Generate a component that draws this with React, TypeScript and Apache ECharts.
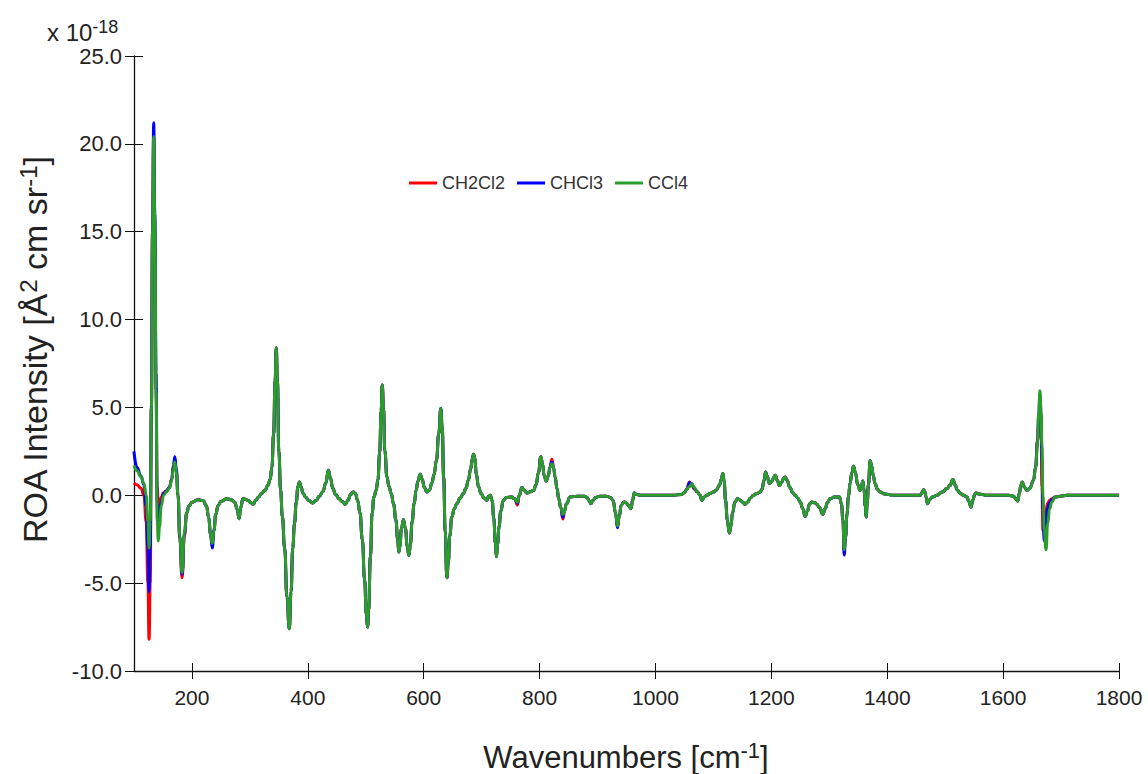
import React, { useEffect, useRef } from 'react';
import * as echarts from 'echarts';

// Wavenumbers [cm^-1] sampled along the spectrum
const wavenumbers = [
  100, 105, 112, 117, 121, 124, 126, 128, 130, 132,
  134, 136, 138, 140, 142, 144, 147, 151, 156, 161,
  165, 168, 170.5, 173, 176, 179, 183, 187, 191, 195,
  200, 210, 219, 225, 229, 232, 235, 238, 241, 245,
  250, 260, 268, 274, 278, 281.5, 284, 288, 292, 297,
  301, 305.5, 310, 315, 320, 326, 331, 335, 338, 341,
  343.5, 345.5, 347.5, 350, 353, 356, 360, 364, 368, 371,
  374, 377, 380, 383, 385.5, 388, 392, 396, 402, 408.5,
  414, 420, 426, 431, 435.5, 439, 443, 448, 454, 459,
  464.5, 469, 474, 478.5, 482, 486, 490, 494, 498, 501,
  503, 505, 508, 511, 514, 518, 521, 524, 526.5, 528.5,
  530.5, 533, 536.5, 540, 544, 548, 552, 555, 557, 559,
  561.5, 565, 568.5, 571.5, 574.5, 577, 580, 583.5, 587, 590,
  594, 597.5, 601, 605.5, 610, 614, 618, 622, 626, 629.5,
  632, 634.5, 637, 640, 642.5, 645, 648.5, 653, 657, 663,
  668.5, 673, 677, 681, 684, 686, 688, 691, 694.5, 699,
  704, 709, 712, 715, 718, 721, 723.5, 725.5, 727.5, 730,
  733, 737.5, 743, 752, 757, 761.8, 765, 769.4, 773, 778,
  784, 789.4, 794, 798, 802.2, 805, 808, 811.4, 815, 818,
  821.2, 824, 827, 830, 833, 836.5, 840.2, 843, 846, 852.8,
  865, 877, 882, 885, 888.5, 892, 897, 904.6, 915, 922,
  927, 931, 934.4, 937.5, 941, 946, 950, 954, 957.6, 960.5,
  963.3, 967, 975, 1000, 1030, 1045, 1050, 1054, 1058.8, 1062.8,
  1067, 1072, 1077, 1080, 1084, 1088.7, 1094, 1100, 1105, 1110.5,
  1113.5, 1116.3, 1118.5, 1121, 1124, 1127.3, 1130, 1133, 1137, 1141.6,
  1145, 1150, 1154.9, 1159, 1164, 1169, 1175, 1180.7, 1184, 1187,
  1189.9, 1192.5, 1196.8, 1201, 1204, 1206.6, 1210, 1214, 1218, 1221,
  1223.9, 1227, 1232, 1237, 1241, 1245.5, 1249.8, 1254, 1258.4, 1262,
  1266, 1270, 1275, 1278.6, 1283, 1288.9, 1293, 1297, 1301.6, 1309,
  1317.6, 1321, 1323.5, 1325.7, 1328, 1330.5, 1333, 1336, 1339, 1341.8,
  1345, 1349, 1353.3, 1355.5, 1357.9, 1360, 1362, 1363.6, 1365.5, 1367.5,
  1370.5, 1373, 1376, 1379, 1383, 1387.8, 1395, 1410.8, 1457, 1460,
  1462.7, 1465, 1467, 1469.6, 1473, 1478, 1485.8, 1495, 1503, 1508,
  1513.4, 1517, 1521, 1526, 1532, 1537.6, 1541, 1544.5, 1548, 1551,
  1553.6, 1558, 1572, 1610, 1618, 1622, 1625, 1628, 1630.5, 1633,
  1636, 1641, 1646, 1652.5, 1656, 1659.4, 1661.5, 1663.5, 1665.5, 1667,
  1668.7, 1671, 1674, 1677, 1680, 1684, 1690, 1698.6, 1710, 1800,
];

// ROA intensity (x 10^-18 Å^2 cm sr^-1)
const ch2cl2 = [
  0.7, 0.6, 0.4, 0.0, -1.5, -5.0, -8.2, -5.0, 5, 15,
  20.5, 15, 6, 0.5, -0.5, -0.65, -0.1, 0.15, 0.25, 0.45,
  0.9, 1.6, 2.0, 1.4, 0, -2.5, -4.7, -2.3, -1.0, -0.6,
  -0.4, -0.25, -0.3, -0.6, -1.3, -2.2, -2.8, -2.0, -1.1, -0.6,
  -0.35, -0.2, -0.25, -0.4, -0.8, -1.33, -0.7, -0.2, -0.22, -0.3,
  -0.4, -0.51, -0.3, -0.1, 0.1, 0.28, 0.55, 0.9, 1.6, 3.5,
  6.5, 8.4, 6.5, 2.5, 0.3, -1.2, -3.0, -5.8, -7.6, -5.5,
  -3.0, -1.6, -0.4, 0.5, 0.76, 0.5, 0.1, -0.1, -0.3, -0.44,
  -0.3, -0.05, 0.2, 0.7, 1.43, 1.0, 0.4, 0.05, -0.2, -0.35,
  -0.51, -0.3, 0.05, 0.19, 0.1, -0.3, -1.0, -2.5, -4.8, -6.8,
  -7.5, -6.5, -3.5, -1.0, -0.1, 0.28, 0.9, 2.4, 4.8, 6.27,
  5.0, 2.5, 1.05, 0.5, 0.1, -0.5, -1.4, -2.5, -3.23, -2.9,
  -1.9, -1.39, -1.9, -2.9, -3.42, -2.8, -1.5, -0.48, 0.3, 0.8,
  1.2, 0.9, 0.45, 0.19, 0.3, 0.7, 1.2, 2.0, 3.5, 4.94,
  3.8, 1.0, -2.0, -4.7, -3.8, -2.3, -1.23, -0.75, -0.48, -0.15,
  0.1, 0.4, 0.86, 1.5, 2.1, 2.34, 2.1, 1.2, 0.48, 0.1,
  -0.15, -0.28, -0.05, 0.0, -0.3, -1.3, -2.7, -3.5, -2.8, -1.8,
  -0.9, -0.29, -0.12, -0.1, -0.2, -0.55, 0.0, 0.44, 0.3, 0.13,
  0.2, 0.28, 0.6, 1.3, 2.19, 1.8, 1.1, 0.82, 1.1, 1.6,
  2.05, 1.6, 1.0, 0.38, -0.2, -0.7, -1.35, -0.9, -0.5, -0.1,
  -0.05, -0.05, -0.12, -0.3, -0.48, -0.3, -0.12, -0.05, -0.05, -0.12,
  -0.3, -1.0, -1.77, -1.2, -0.55, -0.38, -0.45, -0.6, -0.76, -0.3,
  0.13, 0.05, 0, 0, 0, 0.05, 0.15, 0.35, 0.76, 0.55,
  0.35, 0.2, 0.0, -0.29, -0.1, 0.0, 0.1, 0.19, 0.3, 0.57,
  0.9, 1.24, 0.8, -0.3, -1.4, -2.15, -1.8, -1.0, -0.4, -0.19,
  -0.25, -0.38, -0.51, -0.38, -0.15, 0.0, 0.1, 0.19, 0.35, 0.8,
  1.33, 1.1, 0.67, 0.8, 1.0, 1.14, 0.85, 0.57, 0.75, 0.95,
  1.04, 0.85, 0.45, 0.15, 0.0, -0.15, -0.38, -0.75, -1.2, -0.9,
  -0.5, -0.38, -0.42, -0.51, -0.7, -1.08, -0.75, -0.4, -0.19, -0.1,
  -0.1, -0.5, -1.4, -3.2, -2.4, -1.1, -0.1, 0.7, 1.3, 1.65,
  1.3, 0.6, 0.28, 0.5, 0.82, 0.3, -0.6, -1.24, -0.4, 0.6,
  1.96, 1.7, 1.1, 0.67, 0.35, 0.19, 0.08, 0.0, 0.0, 0.15,
  0.32, 0.2, -0.1, -0.48, -0.25, -0.1, 0.0, 0.18, 0.38, 0.55,
  0.9, 0.6, 0.3, 0.1, 0.0, -0.1, -0.35, -0.67, -0.25, 0.05,
  0.13, 0.08, 0.0, 0.0, -0.05, -0.2, -0.32, 0.1, 0.55, 0.76,
  0.5, 0.28, 0.4, 0.86, 1.6, 3.1, 4.2, 5.0, 3.5, 0.5,
  -2.0, -1.5, -0.8, -0.45, -0.3, -0.2, -0.1, -0.05, 0, 0,
];

const chcl3 = [
  2.5, 1.6, 1.1, 0.6, -0.6, -3.0, -5.5, -3.0, 5, 15,
  21.2, 16, 7, -0.5, -1.8, -1.2, -0.4, 0.1, 0.25, 0.45,
  0.9, 1.7, 2.2, 1.5, 0, -2.4, -4.5, -2.2, -1.0, -0.6,
  -0.4, -0.25, -0.3, -0.6, -1.3, -2.2, -3.0, -2.0, -1.1, -0.6,
  -0.35, -0.2, -0.25, -0.4, -0.8, -1.33, -0.7, -0.2, -0.22, -0.3,
  -0.4, -0.51, -0.3, -0.1, 0.1, 0.28, 0.55, 0.9, 1.6, 3.5,
  6.5, 8.4, 6.5, 2.5, 0.3, -1.2, -3.0, -5.8, -7.6, -5.5,
  -3.0, -1.6, -0.4, 0.5, 0.76, 0.5, 0.1, -0.1, -0.3, -0.44,
  -0.3, -0.05, 0.2, 0.7, 1.43, 1.0, 0.4, 0.05, -0.2, -0.35,
  -0.51, -0.3, 0.05, 0.19, 0.1, -0.3, -1.0, -2.5, -4.8, -6.8,
  -7.5, -6.5, -3.5, -1.0, -0.1, 0.28, 0.9, 2.4, 4.8, 6.27,
  5.0, 2.5, 1.05, 0.5, 0.1, -0.5, -1.4, -2.5, -3.23, -2.9,
  -1.9, -1.39, -1.9, -2.9, -3.42, -2.8, -1.5, -0.48, 0.3, 0.8,
  1.2, 0.9, 0.45, 0.19, 0.3, 0.7, 1.2, 2.0, 3.5, 4.94,
  3.8, 1.0, -2.0, -4.7, -3.8, -2.3, -1.23, -0.75, -0.48, -0.15,
  0.1, 0.4, 0.86, 1.5, 2.1, 2.34, 2.1, 1.2, 0.48, 0.1,
  -0.15, -0.28, -0.05, 0.0, -0.3, -1.3, -2.7, -3.5, -2.8, -1.8,
  -0.9, -0.29, -0.12, -0.1, -0.2, -0.45, 0.0, 0.44, 0.3, 0.13,
  0.2, 0.28, 0.6, 1.3, 2.19, 1.8, 1.1, 0.82, 1.1, 1.6,
  1.9, 1.6, 1.0, 0.38, -0.2, -0.7, -1.25, -0.9, -0.5, -0.1,
  -0.05, -0.05, -0.12, -0.3, -0.48, -0.3, -0.12, -0.05, -0.05, -0.12,
  -0.3, -1.0, -1.85, -1.2, -0.55, -0.38, -0.45, -0.6, -0.76, -0.3,
  0.13, 0.05, 0, 0, 0, 0.05, 0.15, 0.35, 0.72, 0.65,
  0.4, 0.2, 0.0, -0.29, -0.1, 0.0, 0.1, 0.19, 0.3, 0.57,
  0.9, 1.24, 0.8, -0.3, -1.4, -2.15, -1.8, -1.0, -0.4, -0.19,
  -0.25, -0.38, -0.51, -0.38, -0.15, 0.0, 0.1, 0.19, 0.35, 0.8,
  1.33, 1.1, 0.67, 0.8, 1.0, 1.14, 0.85, 0.57, 0.75, 0.95,
  1.04, 0.85, 0.45, 0.15, 0.0, -0.15, -0.38, -0.75, -1.2, -0.9,
  -0.5, -0.38, -0.42, -0.51, -0.7, -1.08, -0.75, -0.4, -0.19, -0.1,
  -0.1, -0.5, -1.4, -3.4, -2.4, -1.1, -0.1, 0.7, 1.3, 1.65,
  1.3, 0.6, 0.28, 0.5, 0.82, 0.3, -0.6, -1.24, -0.4, 0.6,
  1.96, 1.7, 1.1, 0.67, 0.35, 0.19, 0.08, 0.0, 0.0, 0.15,
  0.32, 0.2, -0.1, -0.48, -0.25, -0.1, 0.0, 0.18, 0.38, 0.55,
  0.9, 0.6, 0.3, 0.1, 0.0, -0.1, -0.35, -0.67, -0.25, 0.05,
  0.13, 0.08, 0.0, 0.0, -0.05, -0.2, -0.32, 0.1, 0.55, 0.76,
  0.5, 0.28, 0.4, 0.86, 1.6, 3.1, 4.6, 5.7, 4.6, 2.0,
  -0.8, -2.6, -1.5, -0.7, -0.45, -0.25, -0.1, -0.05, 0, 0,
];

const ccl4 = [
  1.7, 1.4, 1.05, 0.7, 0.0, -1.5, -3.0, -1.5, 5, 15,
  20.4, 15.5, 6, -1.5, -2.6, -1.8, -0.6, 0.0, 0.2, 0.4,
  0.85, 1.5, 1.9, 1.3, 0, -2.3, -4.4, -2.1, -1.0, -0.6,
  -0.4, -0.25, -0.3, -0.6, -1.3, -2.2, -2.75, -2.0, -1.1, -0.6,
  -0.35, -0.2, -0.25, -0.4, -0.8, -1.33, -0.7, -0.2, -0.22, -0.3,
  -0.4, -0.51, -0.3, -0.1, 0.1, 0.28, 0.55, 0.9, 1.6, 3.5,
  6.5, 8.4, 6.5, 2.5, 0.3, -1.2, -3.0, -5.8, -7.6, -5.5,
  -3.0, -1.6, -0.4, 0.5, 0.76, 0.5, 0.1, -0.1, -0.3, -0.44,
  -0.3, -0.05, 0.2, 0.7, 1.43, 1.0, 0.4, 0.05, -0.2, -0.35,
  -0.51, -0.3, 0.05, 0.19, 0.1, -0.3, -1.0, -2.5, -4.8, -6.8,
  -7.5, -6.5, -3.5, -1.0, -0.1, 0.28, 0.9, 2.4, 4.8, 6.27,
  5.0, 2.5, 1.05, 0.5, 0.1, -0.5, -1.4, -2.5, -3.23, -2.9,
  -1.9, -1.39, -1.9, -2.9, -3.42, -2.8, -1.5, -0.48, 0.3, 0.8,
  1.2, 0.9, 0.45, 0.19, 0.3, 0.7, 1.2, 2.0, 3.5, 4.94,
  3.8, 1.0, -2.0, -4.7, -3.8, -2.3, -1.23, -0.75, -0.48, -0.15,
  0.1, 0.4, 0.86, 1.5, 2.1, 2.34, 2.1, 1.2, 0.48, 0.1,
  -0.15, -0.28, -0.05, 0.0, -0.3, -1.3, -2.7, -3.5, -2.8, -1.8,
  -0.9, -0.29, -0.12, -0.1, -0.2, -0.4, 0.0, 0.44, 0.3, 0.13,
  0.2, 0.28, 0.6, 1.3, 2.19, 1.8, 1.1, 0.82, 1.1, 1.6,
  1.8, 1.6, 1.0, 0.38, -0.2, -0.7, -1.1, -0.9, -0.5, -0.1,
  -0.05, -0.05, -0.12, -0.3, -0.48, -0.3, -0.12, -0.05, -0.05, -0.12,
  -0.3, -1.0, -1.75, -1.2, -0.55, -0.38, -0.45, -0.6, -0.76, -0.3,
  0.13, 0.05, 0, 0, 0, 0.05, 0.15, 0.35, 0.5, 0.65,
  0.45, 0.2, 0.0, -0.29, -0.1, 0.0, 0.1, 0.19, 0.3, 0.57,
  0.9, 1.24, 0.8, -0.3, -1.4, -2.15, -1.8, -1.0, -0.4, -0.19,
  -0.25, -0.38, -0.51, -0.38, -0.15, 0.0, 0.1, 0.19, 0.35, 0.8,
  1.33, 1.1, 0.67, 0.8, 1.0, 1.14, 0.85, 0.57, 0.75, 0.95,
  1.04, 0.85, 0.45, 0.15, 0.0, -0.15, -0.38, -0.75, -1.2, -0.9,
  -0.5, -0.38, -0.42, -0.51, -0.7, -1.08, -0.75, -0.4, -0.19, -0.1,
  -0.1, -0.5, -1.4, -3.1, -2.4, -1.1, -0.1, 0.7, 1.3, 1.65,
  1.3, 0.6, 0.28, 0.5, 0.82, 0.3, -0.6, -1.24, -0.4, 0.6,
  1.96, 1.7, 1.1, 0.67, 0.35, 0.19, 0.08, 0.0, 0.0, 0.15,
  0.32, 0.2, -0.1, -0.48, -0.25, -0.1, 0.0, 0.18, 0.38, 0.55,
  0.9, 0.6, 0.3, 0.1, 0.0, -0.1, -0.35, -0.67, -0.25, 0.05,
  0.13, 0.08, 0.0, 0.0, -0.05, -0.2, -0.32, 0.1, 0.55, 0.76,
  0.5, 0.28, 0.4, 0.86, 1.6, 3.1, 4.7, 5.95, 4.8, 2.8,
  0.0, -2.0, -3.1, -1.6, -0.8, -0.38, -0.1, -0.05, 0, 0,
];

const xTickValues = [200, 400, 600, 800, 1000, 1200, 1400, 1600, 1800];
const seriesNames = ['CH2Cl2', 'CHCl3', 'CCl4'];
const seriesColors = ['#ff0000', '#0000ff', '#2a9d2a'];

export default function App() {
  const ref = useRef<HTMLDivElement>(null);

  useEffect(() => {
    if (!ref.current) return;
    const chart = echarts.init(ref.current, null, { renderer: 'svg' });
    const font = "'Liberation Sans', Arial, Helvetica, sans-serif";
    const axisColor = '#111';
    const textColor = '#222';
    const values = [ch2cl2, chcl3, ccl4];
    const toPairs = (ys: number[]) => wavenumbers.map((x, i) => [x, ys[i]]);

    chart.setOption({
      animation: false,
      backgroundColor: '#ffffff',
      textStyle: { fontFamily: font },
      grid: { left: 134, right: 29, top: 56, bottom: 103, containLabel: false },
      legend: {
        data: seriesNames,
        left: 409,
        top: 174,
        padding: 0,
        icon: 'rect',
        itemWidth: 28,
        itemHeight: 3,
        itemGap: 12,
        textStyle: { fontSize: 18, color: '#333', fontFamily: font },
      },
      xAxis: [
        {
          type: 'value',
          min: 100,
          max: 1800,
          position: 'bottom',
          axisLine: { show: true, onZero: false, lineStyle: { color: axisColor, width: 1.3 } },
          axisTick: { show: true, length: 8, customValues: xTickValues, lineStyle: { color: axisColor, width: 1 } },
          axisLabel: {
            customValues: xTickValues,
            formatter: (v: number) => String(v),
            fontSize: 21,
            color: textColor,
            margin: 16,
            fontFamily: font,
          },
          splitLine: { show: false },
        },
        {
          type: 'value',
          min: 100,
          max: 1800,
          position: 'bottom',
          axisLine: { show: false, onZero: false },
          axisTick: { show: true, inside: true, length: 8, customValues: xTickValues, lineStyle: { color: axisColor, width: 1 } },
          axisLabel: { show: false },
          splitLine: { show: false },
        },
      ],
      yAxis: [
        {
          type: 'value',
          min: -10,
          max: 25,
          interval: 5,
          position: 'left',
          axisLine: { show: true, onZero: false, lineStyle: { color: axisColor, width: 1.3 } },
          axisTick: { show: true, length: 9, lineStyle: { color: axisColor, width: 1 } },
          axisLabel: {
            formatter: (v: number) => v.toFixed(1),
            fontSize: 22,
            color: textColor,
            margin: 12,
            fontFamily: font,
          },
          splitLine: { show: false },
        },
        {
          type: 'value',
          min: -10,
          max: 25,
          interval: 5,
          position: 'left',
          axisLine: { show: false, onZero: false },
          axisTick: { show: true, inside: true, length: 9, lineStyle: { color: axisColor, width: 1 } },
          axisLabel: { show: false },
          splitLine: { show: false },
        },
      ],
      series: seriesNames.map((name, i) => ({
        name,
        type: 'line',
        xAxisIndex: 0,
        yAxisIndex: 0,
        data: toPairs(values[i]),
        showSymbol: false,
        symbol: 'none',
        smooth: 0.5,
        smoothMonotone: 'x',
        color: seriesColors[i],
        lineStyle: { color: seriesColors[i], width: 3 },
        z: 2 + i,
      })),
      graphic: [
        {
          type: 'text',
          x: 47,
          y: 18,
          style: {
            text: '{a|x 10}{s|-18}',
            fill: textColor,
            rich: {
              a: { fontSize: 24, lineHeight: 28, fontFamily: font, fill: textColor },
              s: { fontSize: 18, lineHeight: 8, verticalAlign: 'top', fontFamily: font, fill: textColor },
            },
          },
        },
        {
          type: 'text',
          x: 626,
          y: 757,
          style: {
            text: '{a|Wavenumbers [cm}{s|-1}{a|]}',
            align: 'center',
            verticalAlign: 'middle',
            fill: textColor,
            rich: {
              a: { fontSize: 31, lineHeight: 36, fontFamily: font, fill: textColor },
              s: { fontSize: 22, lineHeight: 12, verticalAlign: 'top', fontFamily: font, fill: textColor },
            },
          },
        },
        {
          type: 'text',
          x: 35,
          y: 350,
          rotation: Math.PI / 2,
          style: {
            text: '{a|ROA Intensity [Å}{s|2}{a| cm sr}{s|-1}{a|]}',
            align: 'center',
            verticalAlign: 'middle',
            fill: textColor,
            rich: {
              a: { fontSize: 34, lineHeight: 38, fontFamily: font, fill: textColor },
              s: { fontSize: 24, lineHeight: 12, verticalAlign: 'top', fontFamily: font, fill: textColor },
            },
          },
        },
      ],
    });

    return () => chart.dispose();
  }, []);

  return (
    <div
      ref={ref}
      style={{ position: 'fixed', left: 0, top: 0, width: 1148, height: 774, background: '#fff' }}
    />
  );
}
